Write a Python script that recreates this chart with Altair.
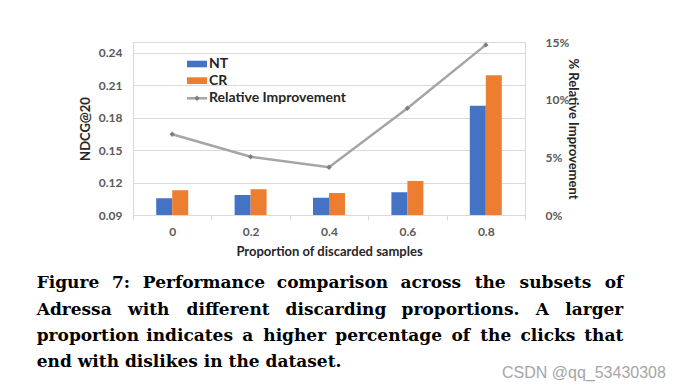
import altair as alt
import pandas as pd

# ---- data ----
categories = ["0", "0.2", "0.4", "0.6", "0.8"]
nt_values = [0.1055, 0.1085, 0.1060, 0.1110, 0.1910]
cr_values = [0.1128, 0.1137, 0.1103, 0.1214, 0.2193]
rel_improvement = [7.0, 5.05, 4.15, 9.26, 14.75]
series_names = ["NT", "CR"]
left_ticks = [0.09, 0.12, 0.15, 0.18, 0.21, 0.24]
right_ticks = [0, 5, 10, 15]

caption_lines = [
    "Figure 7: Performance comparison across the subsets of",
    "Adressa with different discarding proportions. A larger",
    "proportion indicates a higher percentage of the clicks that",
    "end with dislikes in the dataset.",
]
caption_justify = [True, True, True, False]

# ---- layout ----
W, H = 392, 173
BLUE, ORANGE = "#4472C4", "#ED7D31"
GRID = "#D9D9D9"
LABEL = "#595959"
FONT = "Lato"
CAP_FONT, CAP_SIZE = "DejaVu Serif", 17
CAP_LEFT, CAP_RIGHT = -96.3, 490.3      # relative to plot origin
CAP_BASE = [246, 273, 299, 325]

# approximate advance widths (em) of DejaVu Serif Bold, used only to justify
CW = dict(a=.675, b=.716, c=.593, d=.716, e=.678, f=.435, g=.716, h=.760, i=.379,
          j=.379, k=.727, l=.379, m=1.103, n=.760, o=.687, p=.716, q=.716, r=.544,
          s=.595, t=.478, u=.760, v=.652, w=.924, x=.652, y=.652, z=.580)
CW.update({"A": .774, "F": .720, "P": .733, "7": .696, ":": .400, ".": .380})


def wwidth(word):
    return sum(CW.get(ch, .65) for ch in word) * CAP_SIZE * 0.95


cap_rows = []
for li, line_txt in enumerate(caption_lines):
    if not caption_justify[li]:
        cap_rows.append({"w": line_txt, "px": CAP_LEFT, "py": CAP_BASE[li], "al": "left"})
        continue
    words = line_txt.split(" ")
    widths = [wwidth(w) for w in words]
    gap = (CAP_RIGHT - CAP_LEFT - sum(widths)) / (len(words) - 1)
    x = CAP_LEFT
    for wi, (w, wd) in enumerate(zip(words, widths)):
        if wi == 0:
            cap_rows.append({"w": w, "px": CAP_LEFT, "py": CAP_BASE[li], "al": "left"})
        elif wi == len(words) - 1:
            cap_rows.append({"w": w, "px": CAP_RIGHT, "py": CAP_BASE[li], "al": "right"})
        else:
            cap_rows.append({"w": w, "px": x + wd / 2, "py": CAP_BASE[li], "al": "center"})
        x += wd + gap
cap_df = pd.DataFrame(cap_rows)

bars_df = pd.DataFrame({
    "cat": categories * 2,
    "series": ["NT"] * 5 + ["CR"] * 5,
    "value": nt_values + cr_values,
})
line_df = pd.DataFrame({"cat": categories, "ri": rel_improvement})

x_enc = alt.X("cat:N", sort=categories,
              scale=alt.Scale(paddingInner=0, paddingOuter=0),
              axis=alt.Axis(title="Proportion of discarded samples", labelAngle=0,
                            tickBand="extent", tickColor=GRID, domainColor=GRID,
                            tickSize=5, labelPadding=6, labelFont=FONT, labelFontSize=12,
                            labelFontWeight="bold", labelColor=LABEL,
                            titleFont=FONT, titleFontSize=13, titleFontWeight="bold",
                            titleColor="#262626", titlePadding=8))

bars = alt.Chart(bars_df).mark_bar(clip=True).encode(
    x=x_enc,
    xOffset=alt.XOffset("series:N", sort=series_names,
                        scale=alt.Scale(range=[23.2, 55.2], paddingInner=0, paddingOuter=0)),
    y=alt.Y("value:Q", scale=alt.Scale(domain=[0.09, 0.25], nice=False, zero=False),
            axis=alt.Axis(title="NDCG@20", values=left_ticks, format=".2f",
                          grid=True, gridColor=GRID, domain=False, ticks=False,
                          labelPadding=11, labelFont=FONT, labelFontSize=12,
                          labelFontWeight="bold", labelColor=LABEL,
                          titleFont=FONT, titleFontSize=13, titleFontWeight="bold",
                          titleColor="#262626", titlePadding=6)),
    color=alt.Color("series:N", scale=alt.Scale(domain=series_names, range=[BLUE, ORANGE]),
                    legend=None),
)

ri_axis = alt.Axis(title="% Relative Improvement", values=right_ticks,
                   labelExpr="datum.value + '%'", orient="right", grid=False,
                   domain=False, ticks=False, labelPadding=20,
                   labelFont=FONT, labelFontSize=12, labelFontWeight="bold",
                   labelColor=LABEL, titleFont=FONT, titleFontSize=13,
                   titleFontWeight="bold", titleColor="#262626", titlePadding=-3)

line = alt.Chart(line_df).mark_line(color="#A5A5A5", strokeWidth=2.5).encode(
    x=alt.X("cat:N", sort=categories),
    y=alt.Y("ri:Q", scale=alt.Scale(domain=[0, 15], nice=False), axis=ri_axis),
)
pts = alt.Chart(line_df).mark_point(shape="diamond", filled=True, color="#7F7F7F",
                                     size=30, opacity=1).encode(
    x=alt.X("cat:N", sort=categories),
    y=alt.Y("ri:Q", scale=alt.Scale(domain=[0, 15], nice=False), axis=None),
)

# ---- legend (manual) ----
leg_df = pd.DataFrame({"name": ["NT", "CR", "Relative Improvement"],
                       "yy": [22, 38.7, 56.3]})
leg_rect_nt = alt.Chart(leg_df.iloc[[0]]).mark_rect(color=BLUE).encode(
    x=alt.value(54), x2=alt.value(74), y=alt.value(18.7), y2=alt.value(25.3))
leg_rect_cr = alt.Chart(leg_df.iloc[[1]]).mark_rect(color=ORANGE).encode(
    x=alt.value(54), x2=alt.value(74), y=alt.value(35.3), y2=alt.value(42))
leg_line = alt.Chart(leg_df.iloc[[2]]).mark_rule(color="#A5A5A5", strokeWidth=2.5).encode(
    x=alt.value(54), x2=alt.value(74), y=alt.value(56.3))
leg_pt = alt.Chart(leg_df.iloc[[2]]).mark_point(shape="diamond", filled=True,
                                                 color="#7F7F7F", size=30, opacity=1).encode(
    x=alt.value(64), y=alt.value(56.3))
leg_text = alt.Chart(leg_df).mark_text(align="left", baseline="middle", font=FONT,
                                        fontSize=14, fontWeight="bold",
                                        color="#262626").encode(
    x=alt.value(76), y=alt.Y("yy:Q", scale=None), text="name:N")

# ---- caption ----
cap_layers = []
for al in ["left", "center", "right"]:
    cap_layers.append(
        alt.Chart(cap_df).transform_filter(alt.datum.al == al).mark_text(
            align=al, baseline="alphabetic", font=CAP_FONT, fontSize=CAP_SIZE,
            fontWeight="bold", color="#000000").encode(
            x=alt.X("px:Q", scale=None), y=alt.Y("py:Q", scale=None), text="w:N"))

wm = alt.Chart(pd.DataFrame({"t": ["CSDN @qq_53430308"]})).mark_text(
    align="left", baseline="middle", font="Liberation Sans", fontSize=16,
    color="#A6A6A6").encode(x=alt.value(369), y=alt.value(331), text="t:N")

main = alt.layer(bars, line, pts).resolve_scale(y="independent")
overlay = alt.layer(leg_rect_nt, leg_rect_cr, leg_line, leg_pt, leg_text, *cap_layers, wm)

chart = alt.layer(main, overlay).resolve_scale(y="independent", x="independent").properties(
    width=W, height=H,
    autosize=alt.AutoSizeParams(type="none"),
    padding={"left": 125, "top": 34, "right": 152, "bottom": 169},
    background="white",
).configure_view(stroke=GRID, strokeWidth=1)

chart.save("out.html", embed_options={"renderer": "svg", "actions": False})
